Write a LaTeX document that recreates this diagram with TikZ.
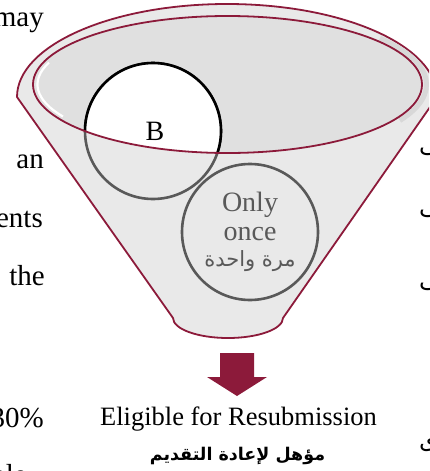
\documentclass[tikz,border=0pt]{standalone}
\usepackage{fontspec}
\setmainfont{Liberation Serif}
\newfontfamily\arabicfont[Script=Arabic]{DejaVu Sans}
\TeXXeTstate=1
\usetikzlibrary{positioning}
\definecolor{funnelred}{RGB}{140,26,58}
\definecolor{funnelgray}{RGB}{233,233,233}
\definecolor{mouthgray}{RGB}{224,224,224}
\definecolor{rimshade}{RGB}{216,216,216}
\definecolor{ringgray}{RGB}{89,89,89}
\tikzset{
  ball/.style={circle,minimum size=136pt,inner sep=0pt,line width=2.6pt},
  sidetext/.style={font=\fontsize{29}{30}\selectfont,inner sep=0pt,anchor=base east},
  sidearabic/.style={font=\arabicfont\fontsize{24}{26}\selectfont,inner sep=0pt,anchor=base west},
  funnelline/.style={funnelred,line width=1.8pt},
}
\begin{document}
\begin{tikzpicture}[x=1pt,y=-1pt]
 \useasboundingbox (0,0) rectangle (429,471);
 \clip (0,0) rectangle (429,471);
 % text of the page round the funnel
 \node[sidetext] (may) at (44,27) {may};
 \node[sidetext] (an) at (44,168) {an};
 \node[sidetext] (ents) at (43,227) {ents};
 \node[sidetext] (the) at (45,285) {the};
 \node[sidetext] (pct) at (44,427) {30\%};
 \node[sidetext] (ple) at (27,484) {ple};
 \node[sidearabic] (ara) at (419,152) {\beginR على\endR};
 \node[sidearabic] (arb) at (419,214) {\beginR إلى\endR};
 \node[sidearabic] (arc) at (419,287) {\beginR حتى\endR};
 \node[sidearabic] (ard) at (419,448) {\beginR مستوى\endR};
 % funnel body
 \draw[funnelline,fill=funnelgray,line join=round]
   (17,97) arc[start angle=180,end angle=360,x radius=210,y radius=93]
   -- (283,318) arc[start angle=0,end angle=180,x radius=55,y radius=20] -- cycle;
 \draw[rimshade,line width=5pt] (227.5,84.5) ++(-40:199 and 72) arc[start angle=-40,end angle=30,x radius=199,y radius=72];
 \fill[mouthgray] (227.5,84.5) ellipse[x radius=194.5,y radius=68.5];
 \draw[white,line width=2.2pt] (227.5,84.5) ++(200:190 and 64) arc[start angle=200,end angle=150,x radius=190,y radius=64];
 % circles
 \coordinate (bc) at (153,131);
 \node[ball,draw=ringgray] (bring) at (bc) {};
 \begin{scope}
  \clip (227.5,84.5) ellipse[x radius=194.5,y radius=68.5];
  \node[ball,draw=black,fill=white] (btop) at (bc) {};
 \end{scope}
 \draw[funnelline] (227.5,84.5) ellipse[x radius=194.5,y radius=68.5];
 \node[font=\fontsize{28}{28}\selectfont] (b) at ([xshift=2pt]bc) {B};
 \node[ball,draw=ringgray,text=ringgray,align=center,font=\fontsize{28}{29}\selectfont] (once) at (250,232)
   {Only\\once\\[-3pt]{\arabicfont\fontsize{21}{22}\selectfont\beginR مرة واحدة\endR}};
 % arrow and caption
 \coordinate (tip) at (237,396);
 \fill[funnelred] (tip) -- ++(-30,-19) -- ++(13,0) -- ++(0,-24) -- ++(34,0) -- ++(0,24) -- ++(13,0) -- cycle;
 \node[font=\fontsize{26.5}{27}\selectfont,anchor=base,inner sep=0pt] (elig) at (238.5,425) {Eligible for Resubmission};
 \node[font=\arabicfont\bfseries\fontsize{17.5}{20}\selectfont,anchor=base,inner sep=0pt] (eligar) at (237.5,460) {\beginR مؤهل لإعادة التقديم\endR};
\end{tikzpicture}
\end{document}
